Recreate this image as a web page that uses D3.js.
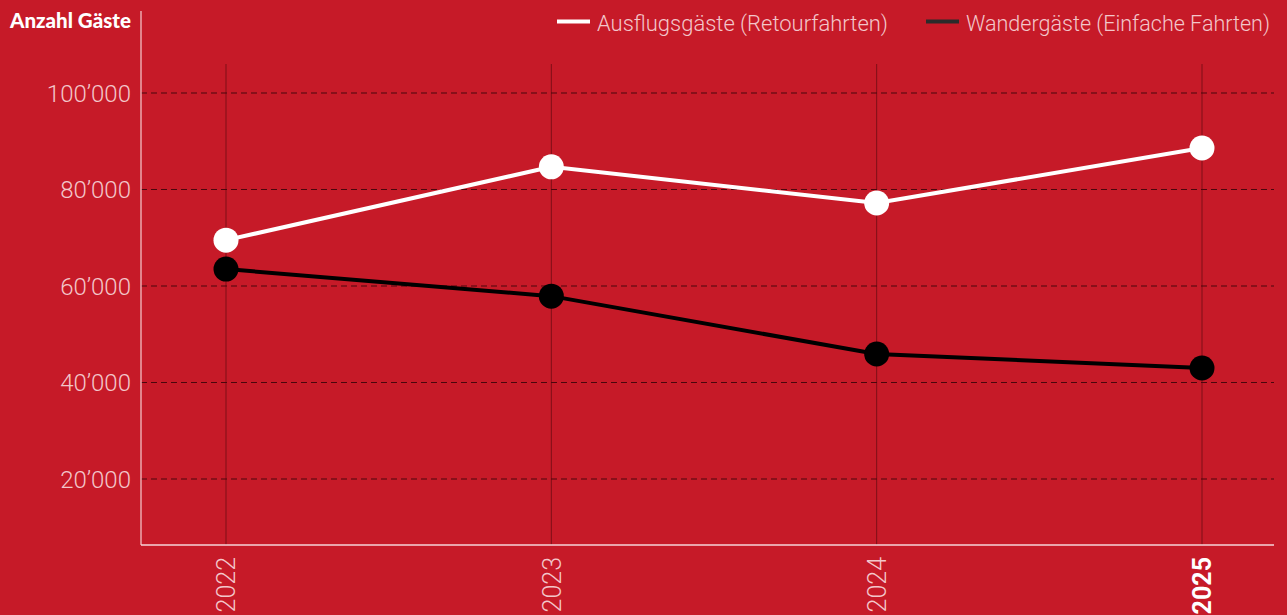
<!DOCTYPE html>
<html>
<head>
<meta charset="utf-8">
<script src="https://cdn.jsdelivr.net/npm/d3@7"></script>
<style>
  html, body { margin: 0; padding: 0; background: #c61a28; }
  svg { display: block; }
  text { font-family: Roboto, "Open Sans", sans-serif; }
</style>
</head>
<body>
<div id="chart"></div>
<script>
'use strict';

var years = ['2022', '2023', '2024', '2025'];
var ausflug = [69500, 84700, 77200, 88600];
var wander = [63500, 57900, 45900, 43000];
var yTicks = [20000, 40000, 60000, 80000, 100000];
var seriesNames = ['Ausflugsgäste (Retourfahrten)', 'Wandergäste (Einfache Fahrten)'];

var width = 1287, height = 615;
var left = 141, right = 1274, bottom = 545, plotTop = 64;

var svg = d3.select('#chart').append('svg')
  .attr('width', width)
  .attr('height', height);

svg.append('rect')
  .attr('width', width).attr('height', height)
  .attr('fill', '#c61a28');

var x = d3.scalePoint().domain(years).range([226, 1202]);
var y = d3.scaleLinear().domain([0, 100000]).range([575.5, 93]);

var fmt = function (v) { return d3.format(',')(v).replace(/,/g, '\u2019'); };

// vertical grid
svg.append('g').selectAll('line')
  .data(years).enter().append('line')
  .attr('x1', function (d) { return x(d); })
  .attr('x2', function (d) { return x(d); })
  .attr('y1', plotTop).attr('y2', bottom)
  .attr('stroke', '#7e0f17').attr('stroke-width', 1);

// horizontal dashed grid
svg.append('g').selectAll('line')
  .data(yTicks).enter().append('line')
  .attr('x1', left).attr('x2', right)
  .attr('y1', function (d) { return y(d); })
  .attr('y2', function (d) { return y(d); })
  .attr('stroke', '#4a060c').attr('stroke-width', 1)
  .attr('stroke-dasharray', '6,4');

// y axis
var yAxis = svg.append('g')
  .attr('transform', 'translate(' + left + ',0)')
  .call(d3.axisLeft(y).tickValues(yTicks).tickFormat(fmt).tickSize(0).tickPadding(10));
yAxis.select('.domain').remove();
yAxis.selectAll('text')
  .attr('fill', '#f3c6ca')
  .style('font-size', '24px')
  .style('font-weight', 300)
  .attr('dy', '0.35em');

svg.append('line')
  .attr('x1', left).attr('x2', left).attr('y1', 11).attr('y2', bottom)
  .attr('stroke', '#eba9ae').attr('stroke-width', 1.5);

// x axis
var xAxis = svg.append('g')
  .attr('transform', 'translate(0,' + bottom + ')')
  .call(d3.axisBottom(x).tickSize(0).tickPadding(0));
xAxis.select('.domain')
  .attr('d', 'M' + left + ',0H' + right)
  .attr('stroke', '#f6d5d8').attr('stroke-width', 1.5);
xAxis.selectAll('text')
  .attr('transform', 'translate(0,12) rotate(-90)')
  .attr('text-anchor', 'end')
  .attr('x', 0).attr('y', 0)
  .attr('dy', '0.35em')
  .style('font-size', '25px')
  .style('font-weight', function (d) { return d === '2025' ? 700 : 300; })
  .attr('fill', function (d) { return d === '2025' ? '#ffffff' : '#f3c6ca'; });

// lines
var line = d3.line()
  .x(function (d, i) { return x(years[i]); })
  .y(function (d) { return y(d); });

var series = [
  { values: wander, color: '#000000' },
  { values: ausflug, color: '#ffffff' }
];

series.forEach(function (s) {
  svg.append('path')
    .datum(s.values)
    .attr('d', line)
    .attr('fill', 'none')
    .attr('stroke', s.color)
    .attr('stroke-width', 4);
  svg.append('g').selectAll('circle')
    .data(s.values).enter().append('circle')
    .attr('cx', function (d, i) { return x(years[i]); })
    .attr('cy', function (d) { return y(d); })
    .attr('r', 12.5)
    .attr('fill', s.color);
});

// title
svg.append('text')
  .attr('x', 10).attr('y', 28)
  .attr('fill', '#ffffff')
  .attr('textLength', 121)
  .attr('lengthAdjust', 'spacingAndGlyphs')
  .style('font-family', 'Lato, Roboto, sans-serif')
  .style('font-size', '20px')
  .style('font-weight', 900)
  .text('Anzahl Gäste');

// legend
var legend = [
  { name: seriesNames[0], color: '#ffffff', x: 557, w: 291 },
  { name: seriesNames[1], color: '#2b2b2b', x: 926, w: 304 }
];
legend.forEach(function (l) {
  svg.append('rect')
    .attr('x', l.x).attr('y', 19.5)
    .attr('width', 33).attr('height', 4)
    .attr('fill', l.color);
  svg.append('text')
    .attr('x', l.x + 40).attr('y', 31)
    .attr('fill', '#f3c6ca')
    .attr('textLength', l.w)
    .attr('lengthAdjust', 'spacingAndGlyphs')
    .style('font-size', '22px')
    .style('font-weight', 300)
    .text(l.name);
});
</script>
</body>
</html>
